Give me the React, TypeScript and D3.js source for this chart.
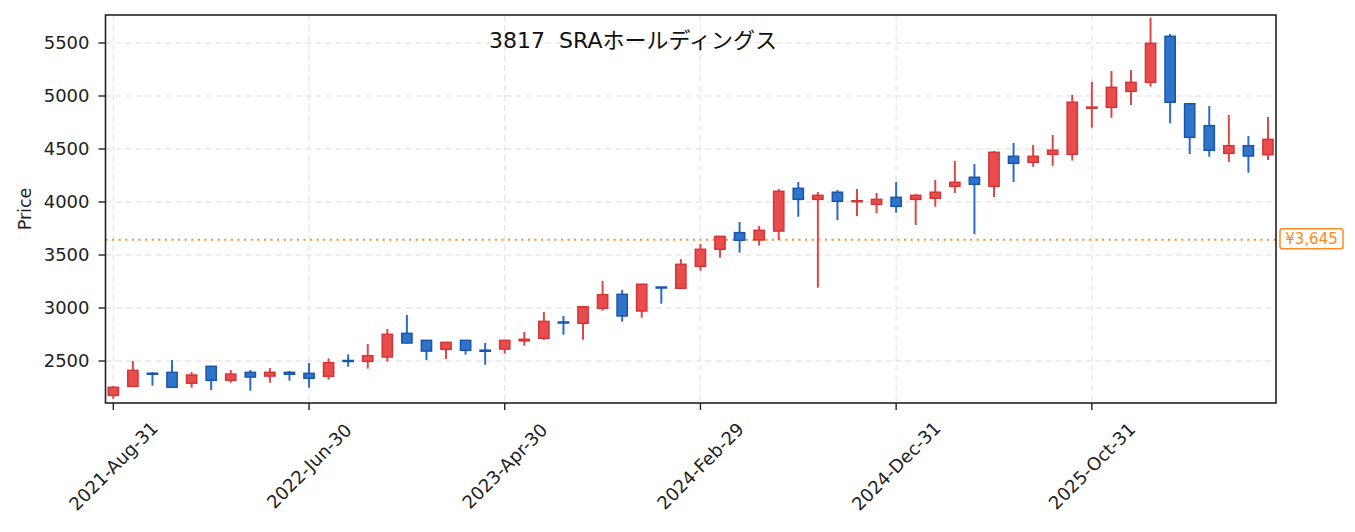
import * as d3 from "d3";
import { useEffect, useRef } from "react";

// monthly OHLC, 2021-Aug .. 2026-Jul
const opens = [
  2176, 2261, 2385, 2393, 2290, 2450, 2318, 2393, 2358, 2393,
  2384, 2356, 2505, 2497, 2538, 2761, 2695, 2610, 2695, 2602,
  2613, 2690, 2714, 2868, 2856, 2997, 3129, 2972, 3198, 3186,
  3393, 3554, 3711, 3642, 3726, 4129, 4025, 4092, 4005, 3978,
  4044, 4025, 4035, 4148, 4233, 4148, 4431, 4375, 4450, 4450,
  4885, 4893, 5044, 5129, 5563, 4927, 4720, 4459, 4531, 4446,
];
const highs = [
  2264, 2500, 2393, 2509, 2396, 2455, 2415, 2415, 2434, 2406,
  2480, 2525, 2563, 2660, 2802, 2934, 2697, 2680, 2697, 2670,
  2698, 2774, 2962, 2925, 3015, 3255, 3170, 3228, 3200, 3462,
  3604, 3680, 3811, 3774, 4123, 4189, 4094, 4113, 4123, 4085,
  4189, 4075, 4208, 4387, 4358, 4481, 4557, 4538, 4632, 5011,
  5132, 5236, 5245, 5739, 5585, 4935, 4906, 4821, 4623, 4802,
];
const lows = [
  2144, 2255, 2267, 2250, 2248, 2226, 2295, 2220, 2295, 2314,
  2248, 2324, 2446, 2428, 2494, 2665, 2509, 2519, 2560, 2465,
  2569, 2644, 2698, 2748, 2701, 2975, 2871, 2909, 3041, 3185,
  3352, 3475, 3522, 3588, 3642, 3861, 3192, 3830, 3868, 3896,
  3899, 3783, 3956, 4085, 3698, 4047, 4189, 4333, 4342, 4390,
  4701, 4795, 4915, 5088, 4742, 4453, 4427, 4377, 4276, 4396,
];
const closes = [
  2252, 2412, 2375, 2252, 2368, 2318, 2377, 2349, 2393, 2375,
  2337, 2484, 2498, 2550, 2752, 2670, 2594, 2676, 2601, 2592,
  2695, 2705, 2874, 2860, 3012, 3126, 2925, 3224, 3192, 3412,
  3554, 3676, 3639, 3733, 4101, 4025, 4063, 4007, 4012, 4025,
  3959, 4063, 4092, 4186, 4167, 4469, 4365, 4431, 4488, 4941,
  4895, 5082, 5129, 5497, 4941, 4610, 4488, 4531, 4434, 4591,
];

const tickIndex = [0, 10, 20, 30, 40, 50];
const tickLabels = [
  "2021-Aug-31",
  "2022-Jun-30",
  "2023-Apr-30",
  "2024-Feb-29",
  "2024-Dec-31",
  "2025-Oct-31",
];
const yTicks = [2500, 3000, 3500, 4000, 4500, 5000, 5500];
const refPrice = 3645;
const title = "3817  SRAホールディングス";

const FONT = "'DejaVu Sans', 'Noto Sans CJK JP', sans-serif";
const UP_FILL = "#e84c4c";
const UP_EDGE = "#d23636";
const DOWN_FILL = "#2e74c8";
const DOWN_EDGE = "#1b55aa";
const ORANGE = "#ff8a24";

function CandleChart() {
  const ref = useRef(null);
  const width = 1355;
  const height = 532;
  const left = 105.5;
  const right = 1276;
  const top = 15;
  const bottom = 403;

  useEffect(() => {
    const svg = d3.select(ref.current);
    svg.selectAll("*").remove();

    const x = d3.scaleLinear().domain([-0.4, 59.41]).range([left, right]);
    const y = d3.scaleLinear().domain([2104, 5764]).range([bottom, top]);
    const bodyW = (x(1) - x(0)) * 0.6;

    svg.append("rect").attr("width", width).attr("height", height).attr("fill", "white");

    // grid
    const grid = svg.append("g").attr("stroke", "#e8e8e8").attr("stroke-width", 1.4).attr("stroke-dasharray", "6,4");
    yTicks.forEach((t) => {
      grid.append("line").attr("x1", left).attr("x2", right).attr("y1", y(t)).attr("y2", y(t));
    });
    tickIndex.forEach((i) => {
      grid.append("line").attr("x1", x(i)).attr("x2", x(i)).attr("y1", top).attr("y2", bottom);
    });

    // reference line
    svg.append("line")
      .attr("x1", left).attr("x2", right)
      .attr("y1", y(refPrice)).attr("y2", y(refPrice))
      .attr("stroke", ORANGE).attr("stroke-width", 2)
      .attr("stroke-dasharray", "2,4.6");

    // candles
    const g = svg.append("g");
    opens.forEach((o, i) => {
      const c = closes[i];
      const up = c >= o;
      const cx = x(i);
      g.append("line")
        .attr("x1", cx).attr("x2", cx)
        .attr("y1", y(highs[i])).attr("y2", y(lows[i]))
        .attr("stroke", up ? "#e04646" : "#2a6bc4")
        .attr("stroke-width", 2);
      const y0 = y(Math.max(o, c));
      const h = Math.max(Math.abs(y(o) - y(c)), 1);
      g.append("rect")
        .attr("x", cx - bodyW / 2 + 0.75).attr("y", y0)
        .attr("width", bodyW - 1.5).attr("height", h)
        .attr("fill", up ? UP_FILL : DOWN_FILL)
        .attr("stroke", up ? UP_EDGE : DOWN_EDGE)
        .attr("stroke-width", 1.5);
    });

    // frame
    svg.append("rect")
      .attr("x", left).attr("y", top)
      .attr("width", right - left).attr("height", bottom - top)
      .attr("fill", "none").attr("stroke", "#222").attr("stroke-width", 1.6);

    // y axis
    const ya = svg.append("g").attr("font-family", FONT).attr("font-size", 18).attr("fill", "#222");
    yTicks.forEach((t) => {
      ya.append("line").attr("x1", left - 7).attr("x2", left).attr("y1", y(t)).attr("y2", y(t))
        .attr("stroke", "#222").attr("stroke-width", 1.4);
      ya.append("text").attr("x", left - 16).attr("y", y(t)).attr("dy", "0.36em")
        .attr("text-anchor", "end").text(t);
    });
    ya.append("text")
      .attr("transform", `translate(25,${(top + bottom) / 2}) rotate(-90)`)
      .attr("text-anchor", "middle").attr("dy", "0.36em")
      .attr("font-size", 17.5).text("Price");

    // x axis
    const xa = svg.append("g").attr("font-family", FONT).attr("font-size", 18).attr("fill", "#222");
    tickIndex.forEach((i, k) => {
      xa.append("line").attr("x1", x(i)).attr("x2", x(i)).attr("y1", bottom).attr("y2", bottom + 7)
        .attr("stroke", "#222").attr("stroke-width", 1.4);
      xa.append("text")
        .attr("transform", `translate(${x(i)},466) rotate(-45)`)
        .attr("text-anchor", "middle").attr("dy", "0.36em")
        .text(tickLabels[k]);
    });

    // title
    svg.append("text")
      .attr("x", 633).attr("y", 40).attr("dy", "0.36em")
      .attr("text-anchor", "middle").attr("font-family", FONT)
      .attr("font-size", 22).attr("fill", "#111")
      .style("white-space", "pre")
      .text(title);

    // price tag
    const tag = svg.append("g");
    tag.append("rect")
      .attr("x", 1280).attr("y", y(refPrice) - 11)
      .attr("width", 63).attr("height", 20).attr("rx", 2.5)
      .attr("fill", "white").attr("stroke", ORANGE).attr("stroke-width", 1.5);
    tag.append("text")
      .attr("x", 1311.5).attr("y", y(refPrice) - 1).attr("dy", "0.36em")
      .attr("text-anchor", "middle").attr("font-family", FONT)
      .attr("font-size", 15).attr("fill", ORANGE)
      .text("¥" + d3.format(",")(refPrice));
  });

  return (
    <svg
      ref={ref}
      width={width}
      height={height}
      style={{ position: "absolute", left: 0, top: 0 }}
    />
  );
}

export default function App() {
  return <CandleChart />;
}
